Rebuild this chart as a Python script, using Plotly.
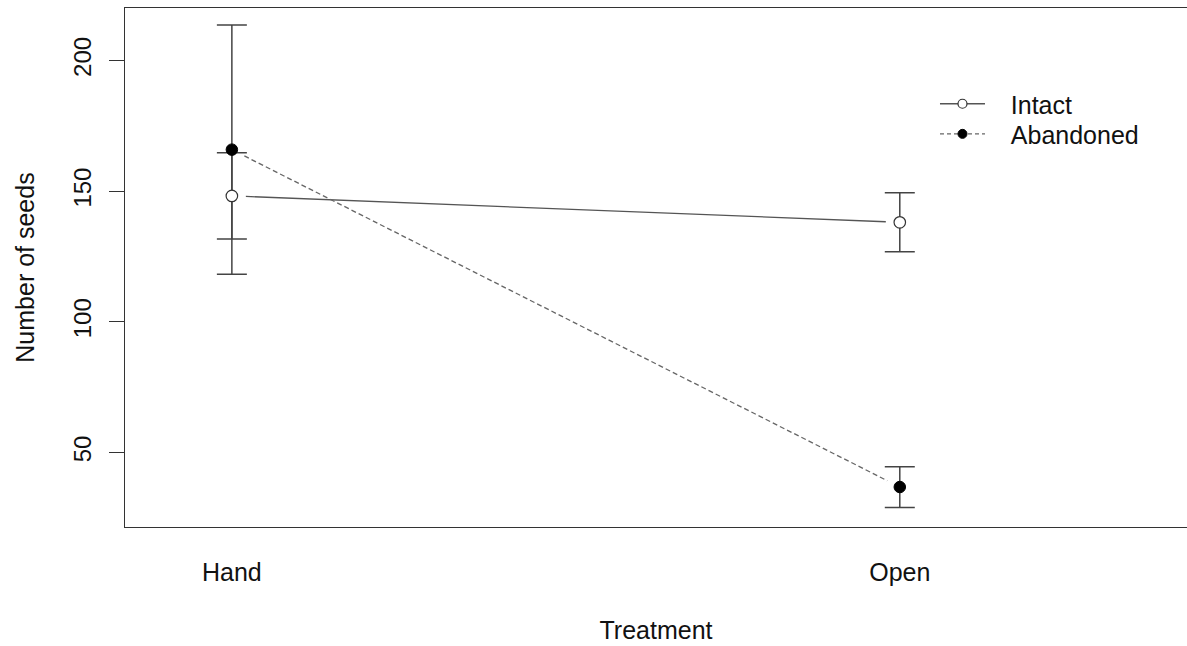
import math
import plotly.graph_objects as go

# ---- data ----
treatments = ["Hand", "Open"]
tick_positions = [1, 2]
intact_mean = [148.2, 138.1]
intact_err = [16.5, 11.3]
abandoned_mean = [165.9, 36.8]
abandoned_err = [47.7, 7.8]
y_ticks = [50, 100, 150, 200]

# ---- layout geometry ----
W, H = 1187, 646
M_L, M_R, M_T, M_B = 125, 0, 8, 119
X_RANGE = [0.84, 2.43]
Y_RANGE = [21.5, 220.1]
FONT = "Liberation Sans, Arial, sans-serif"
TXT = "#111111"

plot_w = W - M_L - M_R
plot_h = H - M_T - M_B
px_x = plot_w / (X_RANGE[1] - X_RANGE[0])
px_y = plot_h / (Y_RANGE[1] - Y_RANGE[0])
GAP = 14  # pixel gap between points and connecting lines (R type="b")


def gapped_segments(xs, ys):
    sx, sy = [], []
    for i in range(len(xs) - 1):
        dx = (xs[i + 1] - xs[i]) * px_x
        dy = (ys[i + 1] - ys[i]) * px_y
        L = math.hypot(dx, dy)
        t = GAP / L
        ax = xs[i] + t * (xs[i + 1] - xs[i])
        ay = ys[i] + t * (ys[i + 1] - ys[i])
        bx = xs[i + 1] - t * (xs[i + 1] - xs[i])
        by = ys[i + 1] - t * (ys[i + 1] - ys[i])
        sx += [ax, bx, None]
        sy += [ay, by, None]
    return sx, sy


fig = go.Figure()

LINE_C = "#555555"
DASH_C = "#666666"
ERR_C = "#444444"
NB = "\u00a0\u00a0\u00a0"

# connecting lines
ix, iy = gapped_segments(tick_positions, intact_mean)
fig.add_trace(go.Scatter(x=ix, y=iy, mode="lines", showlegend=False, hoverinfo="skip",
                         line=dict(color=LINE_C, width=1.3)))
ax_, ay_ = gapped_segments(tick_positions, abandoned_mean)
fig.add_trace(go.Scatter(x=ax_, y=ay_, mode="lines", showlegend=False, hoverinfo="skip",
                         line=dict(color=DASH_C, width=1.3, dash="5px,3px")))

# error bars
for mean, err in [(abandoned_mean, abandoned_err), (intact_mean, intact_err)]:
    fig.add_trace(go.Scatter(
        x=tick_positions, y=mean, mode="markers", showlegend=False, hoverinfo="skip",
        marker=dict(size=1, color="rgba(0,0,0,0)"),
        error_y=dict(type="data", array=err, visible=True, color=ERR_C,
                     thickness=1.5, width=15)))

# markers
fig.add_trace(go.Scatter(x=tick_positions, y=abandoned_mean, mode="markers", showlegend=False,
                         marker=dict(size=11.5, color="black", line=dict(color="black", width=1))))
fig.add_trace(go.Scatter(x=tick_positions, y=intact_mean, mode="markers", showlegend=False,
                         marker=dict(size=11.5, color="white", line=dict(color="#333333", width=1.2))))

# legend entries (one legend each, for tight row spacing)
fig.add_trace(go.Scatter(x=[None], y=[None], mode="lines+markers", name=NB + "Intact",
                         legend="legend",
                         line=dict(color=LINE_C, width=1.3),
                         marker=dict(size=9, color="white", line=dict(color="#333333", width=1.2))))
fig.add_trace(go.Scatter(x=[None], y=[None], mode="lines+markers", name=NB + "Abandoned",
                         legend="legend2",
                         line=dict(color=DASH_C, width=1.3, dash="4px,3px"),
                         marker=dict(size=9, color="black", line=dict(color="black", width=1))))

leg_common = dict(xanchor="left", yanchor="middle", bgcolor="rgba(0,0,0,0)", borderwidth=0,
                  font=dict(family=FONT, size=25, color=TXT), itemwidth=45)

fig.update_layout(
    width=W, height=H,
    margin=dict(l=M_L, r=M_R, t=M_T, b=M_B, pad=0),
    paper_bgcolor="white", plot_bgcolor="white",
    font=dict(family=FONT, size=25, color=TXT),
    legend=dict(x=0.7627, y=0.815, **leg_common),
    legend2=dict(x=0.7627, y=0.757, **leg_common),
    xaxis=dict(range=X_RANGE, tickmode="array", tickvals=tick_positions, ticktext=treatments,
               showgrid=False, zeroline=False, showline=True, linecolor="#333333", linewidth=1.3,
               mirror=True, ticks="", ticklabelstandoff=23,
               tickfont=dict(family=FONT, size=25, color=TXT),
               title=dict(text="Treatment", standoff=36,
                          font=dict(family=FONT, size=25, color=TXT))),
    yaxis=dict(range=Y_RANGE, tickmode="array", tickvals=y_ticks,
               showgrid=False, zeroline=False, showline=True, linecolor="#333333", linewidth=1.3,
               mirror=False, ticks="outside", ticklen=15, tickcolor="#333333", tickwidth=1.3,
               tickangle=-90, ticklabelstandoff=8,
               tickfont=dict(family=FONT, size=24, color=TXT),
               title=dict(text="Number of seeds", standoff=27,
                          font=dict(family=FONT, size=25, color=TXT))),
)

fig.write_html("out.html", config={"displayModeBar": False},
               post_script="document.body.style.margin='0';document.body.style.overflow='hidden';")
